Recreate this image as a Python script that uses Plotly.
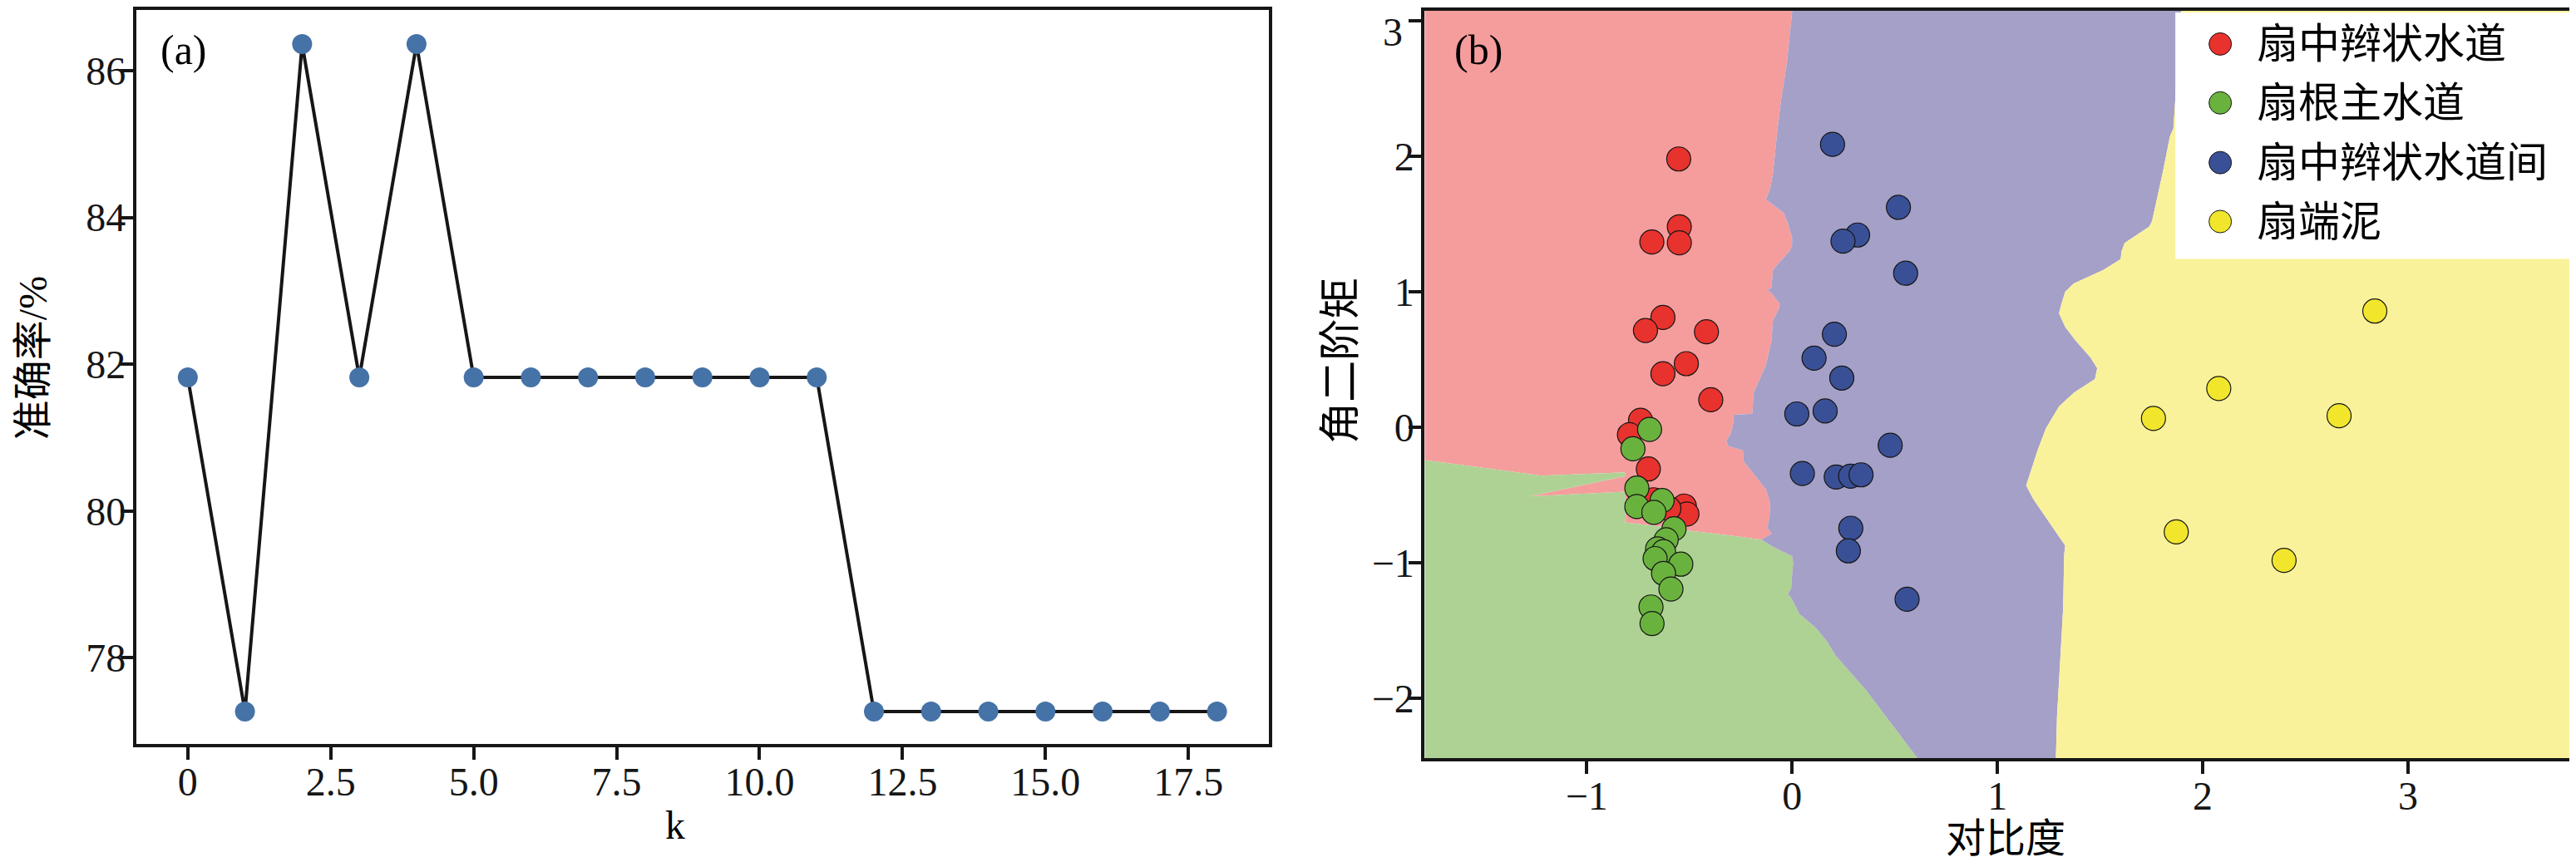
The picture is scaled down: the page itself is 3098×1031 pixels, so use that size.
import plotly.graph_objects as go

W, H = 3098, 1031

# ---- panel (a): accuracy vs k ----
k_values = list(range(19))
accuracy = [81.82, 77.27, 86.36, 81.82, 86.36, 81.82, 81.82, 81.82, 81.82, 81.82,
            81.82, 81.82, 77.27, 77.27, 77.27, 77.27, 77.27, 77.27, 77.27]
k_tickvals = [0, 2.5, 5, 7.5, 10, 12.5, 15, 17.5]
k_ticktext = ["0", "2.5", "5.0", "7.5", "10.0", "12.5", "15.0", "17.5"]
acc_tickvals = [78, 80, 82, 84, 86]

# ---- panel (b): samples (对比度, 角二阶矩) ----
class_names = ["扇中辫状水道", "扇根主水道", "扇中辫状水道间", "扇端泥"]

red_x = [-0.552, -0.549, -0.683, -0.549, -0.629, -0.714, -0.417, -0.515, -0.629,
         -0.396, -0.738, -0.792, -0.700, -0.675, -0.525, -0.512, -0.600]
red_y = [1.979, 1.479, 1.367, 1.360, 0.810, 0.714, 0.704, 0.469, 0.395,
         0.203, 0.051, -0.055, -0.308, -0.535, -0.581, -0.640, -0.600]

green_x = [-0.694, -0.775, -0.756, -0.756, -0.633, -0.673, -0.575, -0.613, -0.655,
           -0.626, -0.542, -0.667, -0.626, -0.590, -0.687, -0.682]
green_y = [-0.016, -0.159, -0.449, -0.585, -0.540, -0.628, -0.749, -0.830, -0.898,
           -0.918, -1.010, -0.969, -1.078, -1.193, -1.326, -1.448]

blue_x = [0.197, 0.518, 0.319, 0.248, 0.553, 0.206, 0.107, 0.242, 0.023,
          0.161, 0.478, 0.050, 0.215, 0.285, 0.336, 0.286, 0.274, 0.560]
blue_y = [2.087, 1.622, 1.418, 1.373, 1.136, 0.686, 0.510, 0.363, 0.098,
          0.120, -0.133, -0.341, -0.367, -0.361, -0.351, -0.745, -0.912, -1.269]

yellow_x = [2.838, 2.078, 1.760, 2.664, 1.871, 2.396]
yellow_y = [0.857, 0.286, 0.065, 0.085, -0.772, -0.982]

# decision region boundaries
# red / purple, top -> junction
rp_x = [0.005, 0.0, -0.026, -0.053, -0.073, -0.093, -0.107, -0.127, -0.10, -0.04, -0.02,
        0.0, 0.0, -0.012, -0.066, -0.093, -0.10, -0.12, -0.10, -0.06, -0.065, -0.093,
        -0.10, -0.127, -0.174, -0.187, -0.194, -0.283, -0.289, -0.30, -0.32, -0.31,
        -0.24, -0.235, -0.21, -0.167, -0.127, -0.107, -0.11, -0.12, -0.10, -0.15]
rp_y = [3.2, 3.06, 2.68, 2.42, 2.17, 1.87, 1.76, 1.68, 1.65, 1.58, 1.50,
        1.40, 1.34, 1.30, 1.21, 1.16, 1.03, 1.01, 0.99, 0.91, 0.87, 0.79,
        0.64, 0.46, 0.30, 0.255, 0.10, 0.092, 0.01, -0.05, -0.10, -0.14,
        -0.17, -0.255, -0.30, -0.38, -0.46, -0.56, -0.66, -0.745, -0.785, -0.83]
# red / green, junction -> left edge (with the thin red wedge)
rg_x = [-0.15, -0.26, -0.49, -0.60, -0.82, -0.81, -0.815, -1.281, -0.81, -0.815, -1.22, -1.9]
rg_y = [-0.83, -0.806, -0.765, -0.74, -0.70, -0.684, -0.475, -0.51, -0.361, -0.333, -0.357, -0.22]
# green / purple, junction -> bottom
gp_x = [-0.15, -0.086, 0.0, 0.005, -0.005, -0.02, 0.0, 0.035, 0.116, 0.17, 0.21, 0.36, 0.47, 0.61, 0.70]
gp_y = [-0.83, -0.887, -0.95, -1.0, -1.19, -1.23, -1.27, -1.377, -1.48, -1.58, -1.68, -1.94, -2.16, -2.44, -2.6]
# purple / yellow, top -> bottom
py_x = [1.90, 1.857, 1.84, 1.806, 1.753, 1.74, 1.62, 1.605, 1.60, 1.516, 1.372, 1.33, 1.31,
        1.30, 1.33, 1.38, 1.453, 1.486, 1.475, 1.372, 1.30, 1.237, 1.196, 1.165, 1.14,
        1.175, 1.247, 1.33, 1.325, 1.32, 1.305, 1.29, 1.285, 1.28]
py_y = [3.2, 2.205, 2.145, 1.885, 1.52, 1.48, 1.36, 1.30, 1.24, 1.16, 1.06, 1.00, 0.90,
        0.84, 0.74, 0.64, 0.515, 0.435, 0.355, 0.254, 0.153, -0.006, -0.169, -0.31, -0.43,
        -0.53, -0.69, -0.873, -0.94, -1.335, -1.74, -2.14, -2.43, -2.6]

XL, XR, YB, YT = -1.9, 3.95, -2.6, 3.2

point_colors = ["#E8322D", "#6AB23E", "#3A5096", "#F2E62D"]
region_colors = ["#F59D9D", "#AED294", "#A5A0C7", "#F9F29B"]

FONT = "Liberation Serif, Noto Sans CJK SC"
INK = "#161616"

fig = go.Figure()

# panel (a)
fig.add_trace(go.Scatter(x=k_values, y=accuracy, mode="lines+markers",
                         line=dict(color=INK, width=4),
                         marker=dict(color="#4572A7", size=24),
                         xaxis="x", yaxis="y", showlegend=False))

# panel (b) regions
red_poly = ([XL] + rp_x + rg_x, [YT] + rp_y + rg_y)
green_poly = (rg_x + [XL] + gp_x[::-1], rg_y + [YB] + gp_y[::-1])
purple_poly = (rp_x + gp_x + py_x[::-1], rp_y + gp_y + py_y[::-1])
yellow_poly = (py_x + [XR, XR], py_y + [YB, YT])

for (px, pyy), col in zip([red_poly, green_poly, purple_poly, yellow_poly], region_colors):
    fig.add_trace(go.Scatter(x=px, y=pyy, mode="lines", fill="toself", fillcolor=col,
                             line=dict(width=0, color=col), hoverinfo="skip",
                             xaxis="x2", yaxis="y2", showlegend=False))

for xs, ys, col, name in zip([red_x, green_x, blue_x, yellow_x],
                             [red_y, green_y, blue_y, yellow_y],
                             point_colors, class_names):
    fig.add_trace(go.Scatter(x=xs, y=ys, mode="markers", name=name,
                             marker=dict(color=col, size=29, line=dict(color=INK, width=1.2)),
                             xaxis="x2", yaxis="y2", showlegend=False))

axis_common = dict(showline=True, mirror=True, linecolor=INK, linewidth=4,
                   ticks="outside", ticklen=15, tickwidth=4, tickcolor=INK,
                   showgrid=False, zeroline=False,
                   tickfont=dict(family=FONT, size=48, color=INK))

shapes = []
annotations = []

# legend drawn by hand so the symbols keep their size
lx0, lx1, ly0, ly1 = 2609, 3093, 5, 302
shapes.append(dict(type="rect", xref="paper", yref="paper", layer="above",
                   x0=lx0 / W, x1=lx1 / W, y0=1 - ly1 / H, y1=1 - ly0 / H,
                   fillcolor="white", line=dict(width=0)))
row_y = [43, 114, 186, 257]
for ry, col, name in zip(row_y, point_colors, class_names):
    shapes.append(dict(type="circle", xref="paper", yref="paper", layer="above",
                       xsizemode="pixel", ysizemode="pixel",
                       xanchor=2663 / W, yanchor=1 - ry / H,
                       x0=-13.5, x1=13.5, y0=-13.5, y1=13.5,
                       fillcolor=col, line=dict(color=INK, width=1)))
    annotations.append(dict(text=name, xref="paper", yref="paper", showarrow=False,
                            x=2705 / W, y=1 - ry / H, xanchor="left", yanchor="middle",
                            font=dict(family=FONT, size=50, color="black")))

def label(text, x, y, angle=0, size=48):
    annotations.append(dict(text=text, xref="paper", yref="paper", showarrow=False,
                            x=x / W, y=1 - y / H, xanchor="center", yanchor="middle",
                            textangle=angle, font=dict(family=FONT, size=size, color="black")))

label("(a)", 213, 50, size=50)
label("(b)", 1771, 50, size=50)
label("k", 804, 984)
label("准确率/%", 31, 421, angle=-90, size=48)
label("对比度", 2405, 1000, size=48)
label("角二阶矩", 1605, 424, angle=-90, size=50)

# the top tick label of panel (b) sits on the page edge; plotly hides it, so
# place it by hand just inside the page
annotations.append(dict(text="3", xref="paper", yref="paper", showarrow=False,
                        x=1682 / W, y=1, xanchor="right", yanchor="top",
                        font=dict(family=FONT, size=48, color=INK)))

fig.update_layout(
    width=W, height=H,
    margin=dict(l=0, r=0, t=0, b=0),
    paper_bgcolor="white", plot_bgcolor="white",
    showlegend=False,
    xaxis=dict(domain=[156 / W, 1518 / W], range=[-0.9, 18.9], ticklabelstandoff=-15,
               tickvals=k_tickvals, ticktext=k_ticktext, anchor="y", **axis_common),
    yaxis=dict(domain=[1 - 887 / H, 1 - 2 / H], range=[76.825, 86.825], ticklabelstandoff=-16,
               tickvals=acc_tickvals, anchor="x", **axis_common),
    xaxis2=dict(domain=[1706 / W, 3095 / W], range=[-1.789, 3.834], ticklabelstandoff=-15,
                dtick=1, anchor="y2", **axis_common),
    yaxis2=dict(domain=[1 - 904 / H, 1 - 3 / H], range=[-2.442, 3.072], ticklabelstandoff=-16,
                dtick=1, anchor="x2", **axis_common),
    shapes=shapes,
    annotations=annotations,
)

fig.write_html("out.html")
